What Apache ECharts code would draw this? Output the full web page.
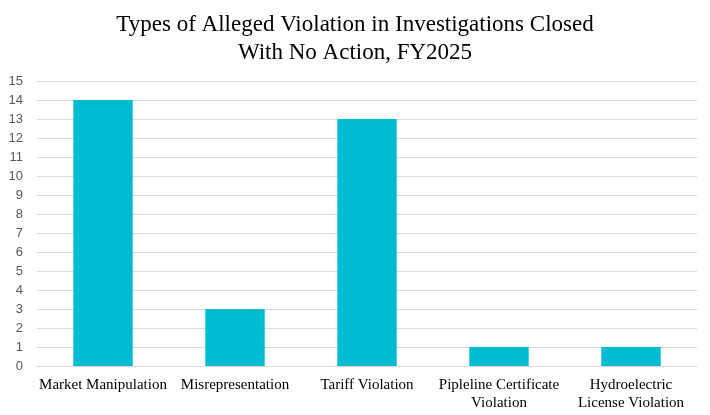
<!DOCTYPE html>
<html>
<head>
<meta charset="utf-8">
<script src="https://cdn.jsdelivr.net/npm/echarts@6/dist/echarts.min.js"></script>
<style>html,body{margin:0;padding:0;background:#fff;}#c{width:710px;height:415px;}</style>
</head>
<body>
<div id="c"></div>
<script>
const titleLines = ["Types of Alleged Violation in Investigations Closed", "With No Action, FY2025"];
const categories = ["Market Manipulation", "Misrepresentation", "Tariff Violation", "Pipleline Certificate\nViolation", "Hydroelectric\nLicense Violation"];
const values = [14, 3, 13, 1, 1];
const yMin = 0, yMax = 15, yStep = 1;

const chart = echarts.init(document.getElementById('c'), null, {renderer: 'canvas'});
chart.setOption({
  animation: false,
  backgroundColor: '#ffffff',
  title: {
    text: titleLines.join('\n'),
    left: 'center',
    top: 6,
    textStyle: {fontFamily: 'Liberation Serif', fontSize: 23, fontWeight: 'normal', color: '#000000', lineHeight: 28}
  },
  grid: {left: 37, right: 13, top: 81, bottom: 49, containLabel: false},
  xAxis: {
    type: 'category',
    data: categories,
    axisLine: {show: true, lineStyle: {color: '#d9d9d9', width: 1}},
    axisTick: {show: false},
    axisLabel: {interval: 0, fontFamily: 'Liberation Serif', fontSize: 15, color: '#000000', margin: 10, lineHeight: 18}
  },
  yAxis: {
    type: 'value',
    min: yMin, max: yMax, interval: yStep,
    axisLine: {show: false},
    axisTick: {show: false},
    splitLine: {lineStyle: {color: '#d9d9d9', width: 1}},
    axisLabel: {fontFamily: 'Liberation Sans', fontSize: 13, color: '#595959', margin: 14}
  },
  series: [{
    type: 'bar',
    data: values,
    barWidth: '45%',
    itemStyle: {color: '#00BCD0'}
  }]
});
</script>
</body>
</html>
